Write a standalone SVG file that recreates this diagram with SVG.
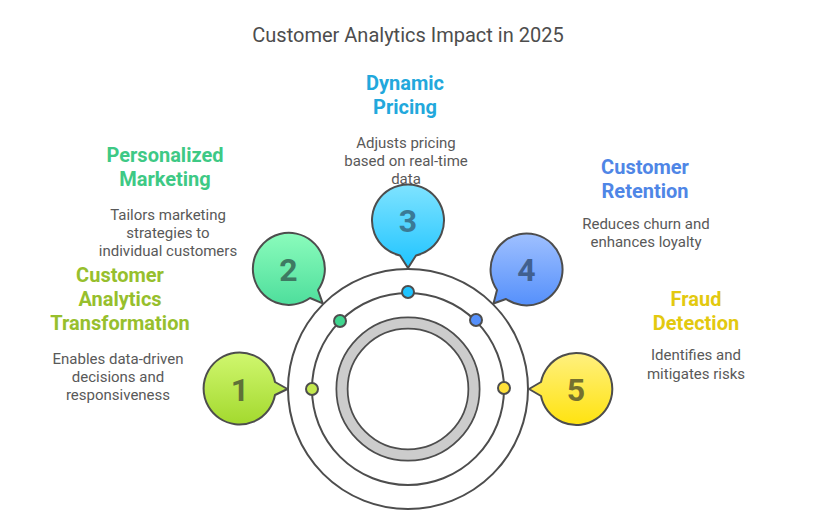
<svg xmlns="http://www.w3.org/2000/svg" width="816" height="532" viewBox="0 0 816 532">
<style>
text{font-family:Roboto,"Liberation Sans",sans-serif;text-anchor:middle}
.t{font-size:20px;fill:#4d4d4d}
.h{font-size:20px;font-weight:700}
.d{font-size:15px;fill:#595959}
.n{font-size:32px;font-weight:700}
.b{stroke:#4d4d4d;stroke-width:2;stroke-linejoin:round}
.l{fill:none;stroke:#4d4d4d;stroke-width:2}
</style>
<defs>
<linearGradient id="g1" x1="0" y1="0" x2="0" y2="1"><stop offset="0" stop-color="#d0f76f"/><stop offset="1" stop-color="#a3d92e"/></linearGradient>
<linearGradient id="g2" x1="0" y1="0" x2="0" y2="1"><stop offset="0" stop-color="#8bfcbc"/><stop offset="1" stop-color="#4ede9c"/></linearGradient>
<linearGradient id="g3" x1="0" y1="0" x2="0" y2="1"><stop offset="0" stop-color="#7fe3ff"/><stop offset="1" stop-color="#1fc4ff"/></linearGradient>
<linearGradient id="g4" x1="0" y1="0" x2="0" y2="1"><stop offset="0" stop-color="#9fc0ff"/><stop offset="1" stop-color="#5590fb"/></linearGradient>
<linearGradient id="g5" x1="0" y1="0" x2="0" y2="1"><stop offset="0" stop-color="#fff07f"/><stop offset="1" stop-color="#ffe30f"/></linearGradient>
</defs>
<rect width="816" height="532" fill="#fff"/>
<text class="t" x="408" y="42">Customer Analytics Impact in 2025</text>
<g id="connectors">
<circle class="l" cx="408" cy="389" r="120"/>
<circle class="l" cx="408" cy="389" r="96"/>
<circle cx="408" cy="389" r="66" fill="none" stroke="#4d4d4d" stroke-width="13"/>
<circle cx="408" cy="389" r="66" fill="none" stroke="#cccccc" stroke-width="9.500"/>
</g>
<g id="node1">
<path class="b" fill="url(#g1)" d="M275 382A36 36 0 1 0 275 395L287.500 389Z"/>
<circle class="b" cx="312" cy="389" r="6" fill="#c3e84f"/>
<text class="n" x="240" y="401" fill="#5f7038">1</text>
<text class="h" x="120" y="282" fill="#97bf2d">Customer</text>
<text class="h" x="120" y="306" fill="#97bf2d">Analytics</text>
<text class="h" x="120" y="330" fill="#97bf2d">Transformation</text>
<text class="d" x="118" y="364">Enables data-driven</text>
<text class="d" x="118" y="382">decisions and</text>
<text class="d" x="118" y="400">responsiveness</text>
</g>
<g id="node2">
<path class="b" fill="url(#g2)" d="M318 290A36 36 0 1 0 310 298L322.700 303.300Z"/>
<circle class="b" cx="340" cy="321" r="6" fill="#3fd68f"/>
<text class="n" x="288.500" y="281" fill="#3e7a62">2</text>
<text class="h" x="165" y="162" fill="#3ec985">Personalized</text>
<text class="h" x="165" y="186" fill="#3ec985">Marketing</text>
<text class="d" x="168" y="220">Tailors marketing</text>
<text class="d" x="168" y="238">strategies to</text>
<text class="d" x="168" y="256">individual customers</text>
</g>
<g id="node3">
<path class="b" fill="url(#g3)" d="M400 255.500A36 36 0 1 1 416 255.500L408 268Z"/>
<circle class="b" cx="408" cy="292" r="6" fill="#1fc4ff"/>
<text class="n" x="408" y="232" fill="#3a7a96">3</text>
<text class="h" x="405" y="90" fill="#22a8dc">Dynamic</text>
<text class="h" x="405" y="114" fill="#22a8dc">Pricing</text>
<text class="d" x="406" y="148">Adjusts pricing</text>
<text class="d" x="406" y="166">based on real-time</text>
<text class="d" x="406" y="184">data</text>
</g>
<g id="node4">
<path class="b" fill="url(#g4)" d="M497 290A36 36 0 1 1 506 299L493.500 303.500Z"/>
<circle class="b" cx="476" cy="320" r="6" fill="#5590fb"/>
<text class="n" x="526.500" y="281" fill="#41608f">4</text>
<text class="h" x="645" y="174" fill="#4f86e6">Customer</text>
<text class="h" x="645" y="198" fill="#4f86e6">Retention</text>
<text class="d" x="646" y="228.500">Reduces churn and</text>
<text class="d" x="646" y="246.500">enhances loyalty</text>
</g>
<g id="node5">
<path class="b" fill="url(#g5)" d="M541 382A36 36 0 1 1 541 396L529 389Z"/>
<circle class="b" cx="504" cy="388" r="6" fill="#ffe13a"/>
<text class="n" x="576" y="401" fill="#75702f">5</text>
<text class="h" x="696" y="306" fill="#e3c90f">Fraud</text>
<text class="h" x="696" y="330" fill="#e3c90f">Detection</text>
<text class="d" x="696" y="360">Identifies and</text>
<text class="d" x="696" y="378.500">mitigates risks</text>
</g>
</svg>
